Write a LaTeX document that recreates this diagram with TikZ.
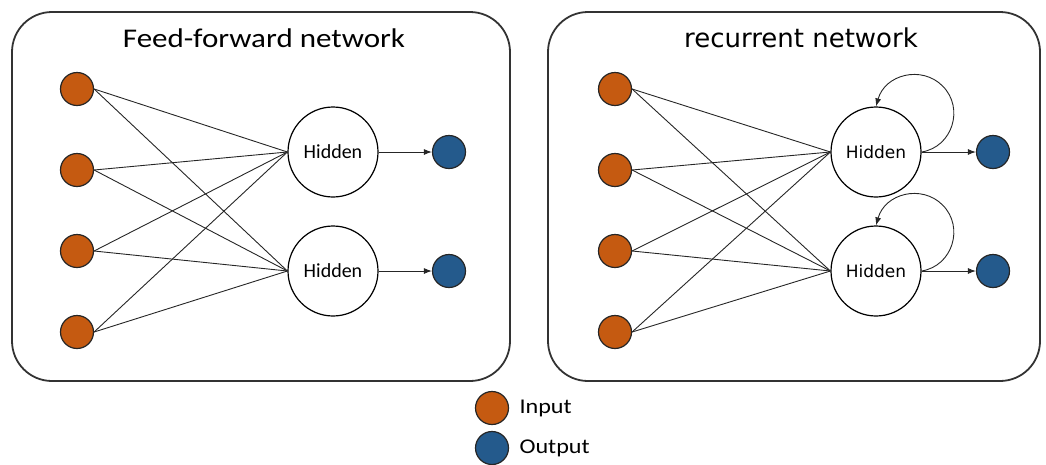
\documentclass[tikz,border=0pt]{standalone}
\usepackage{fontspec}
\setmainfont{Carlito}
\newfontfamily\widecarlito[FakeStretch=1.15]{Carlito}
\newfontfamily\dejavu{DejaVu Sans}
\usetikzlibrary{arrows.meta,calc}
\definecolor{inorange}{HTML}{C55A11}
\definecolor{outblue}{HTML}{245A8C}
\definecolor{boxgray}{HTML}{333333}
\tikzset{
  panel/.style={draw=boxgray, line width=1.8pt, rounded corners=40pt},
  innode/.style={circle, draw=black!85, line width=1.2pt, fill=inorange, minimum size=33pt, inner sep=0pt},
  outnode/.style={circle, draw=black!85, line width=1.2pt, fill=outblue, minimum size=33pt, inner sep=0pt},
  hidnode/.style={circle, draw=black, line width=1.2pt, fill=white, minimum size=90pt, inner sep=0pt},
  conn/.style={draw=black!85, line width=0.9pt},
  arr/.style={conn, -{Latex[length=8pt,width=6pt]}},
}
\begin{document}
\begin{tikzpicture}[x=1pt,y=-1pt]
\useasboundingbox (0,0) rectangle (1046,464);
% panels
\draw[panel] (12,12) rectangle (510,381);
\draw[panel] (548,12) rectangle (1040,381);
\node (t1) at (264,38) {\widecarlito\fontsize{27pt}{31pt}\selectfont Feed-forward network};
\node (t2) at (801,38) {\dejavu\fontsize{26pt}{30pt}\selectfont recurrent network};

% input nodes
\foreach \i/\y in {1/89,2/170,3/251,4/332}{
  \node[innode] (a\i) at (77,\y) {};
  \node[innode] (b\i) at (615,\y) {};
}
% left panel
\node[hidnode] (ha1) at (333,152) {\fontsize{20pt}{24pt}\selectfont Hidden};
\node[hidnode] (ha2) at (333,271) {\fontsize{20pt}{24pt}\selectfont Hidden};
\node[outnode] (oa1) at (449,152) {};
\node[outnode] (oa2) at (449,271) {};
% right panel
\node[hidnode] (hb1) at (876,152) {\dejavu\fontsize{17pt}{20pt}\selectfont Hidden};
\node[hidnode] (hb2) at (876,271) {\dejavu\fontsize{17pt}{20pt}\selectfont Hidden};
\node[outnode] (ob1) at (993,152) {};
\node[outnode] (ob2) at (993,271) {};

\foreach \i in {1,2,3,4}{
  \foreach \j in {1,2}{
    \draw[conn] (a\i.east) -- (ha\j.west);
    \draw[conn] (b\i.east) -- (hb\j.west);
  }
}
\foreach \j in {1,2}{
  \draw[arr] (ha\j.east) -- (oa\j.west);
  \draw[arr] (hb\j.east) -- (ob\j.west);
  \coordinate (lp\j) at ($(hb\j.east)+(21,-66)$);
  \draw[arr] (hb\j.east) .. controls +(31,-5) and +(22,22) .. (lp\j)
                         .. controls +(-21,-21) and +(9,-32) .. (hb\j.north);
}

% legend
\node[innode] (li) at (492,408) {};
\node[outnode] (lo) at (492,448) {};
\node[anchor=west] (lit) at (516,408) {\widecarlito\fontsize{21pt}{24pt}\selectfont Input};
\node[anchor=west] (lot) at (516,448) {\widecarlito\fontsize{21pt}{24pt}\selectfont Output};
\end{tikzpicture}
\end{document}
